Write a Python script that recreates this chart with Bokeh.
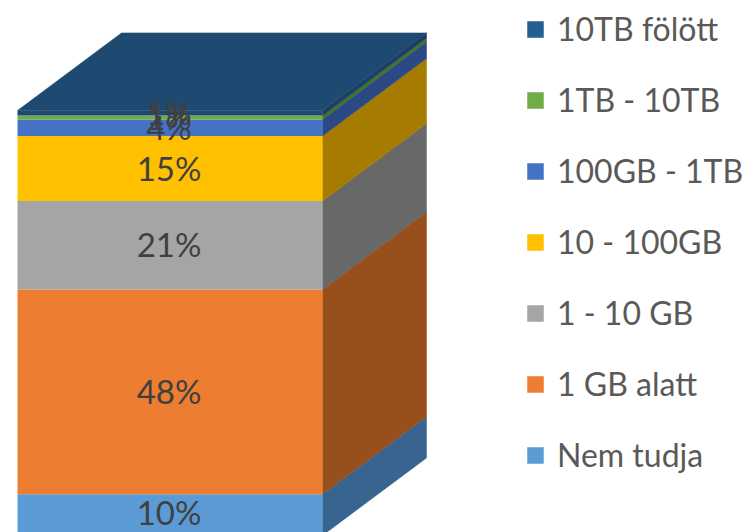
from bokeh.plotting import figure
from bokeh.models import Range1d, Legend, LegendItem, ColumnDataSource
from bokeh.core.properties import value
from bokeh.embed import file_html
from bokeh.resources import INLINE
import numpy as np

categories = ["Nem tudja", "1 GB alatt", "1 - 10 GB", "10 - 100GB", "100GB - 1TB", "1TB - 10TB", "10TB fölött"]
shares = [9.7, 48.2, 20.8, 15.3, 3.9, 0.9, 1.2]
labels = ["10%", "48%", "21%", "15%", "4%", "1%", "1%"]
front_colors = ["#5B9BD5", "#ED7D31", "#A5A5A5", "#FFC000", "#4472C4", "#70AD47", "#1E4A72"]
side_colors = ["#38658F", "#974F1C", "#686868", "#A67C00", "#2B4A85", "#44702C", "#1A3F66"]
legend_colors = ["#5B9BD5", "#ED7D31", "#A5A5A5", "#FFC000", "#4472C4", "#70AD47", "#255E91"]
top_color = "#1E4A72"

W, H = 748, 532
PX_X, PX_Y = 305.0, 4.25
DX, DY = 104 / PX_X, 77.6 / PX_Y

p = figure(width=W, height=H, output_backend="svg", toolbar_location=None,
           x_range=Range1d(-17 / PX_X, (W - 17) / PX_X),
           y_range=Range1d((535 - H) / PX_Y, 535 / PX_Y),
           min_border=0, outline_line_color=None)
p.axis.visible = False
p.grid.visible = False
p.background_fill_color = "white"

arr = np.array(shares)
tops = np.cumsum(arr)
bots = tops - arr

# side faces and top
for b, t, c in zip(bots, tops, side_colors):
    p.patch([1, 1 + DX, 1 + DX, 1], [b, b + DY, t + DY, t], fill_color=c, line_color=c, line_width=0.5)
p.patch([0, DX, 1 + DX, 1], [tops[-1], tops[-1] + DY, tops[-1] + DY, tops[-1]],
        fill_color=top_color, line_color=top_color, line_width=0.5)

# front faces
for b, t, c in zip(bots, tops, front_colors):
    p.vbar(x=[0.5], width=1, bottom=[b], top=[t], fill_color=c, line_color=None)

# data labels (the lowest one is nudged up so that it stays inside the picture)
nudge = [-3, -1, -1, -1, -1, -1, -1]
src = ColumnDataSource(dict(x=[0.5] * len(labels), y=(bots + tops) / 2, t=labels, dy=nudge))
p.text("x", "y", text="t", source=src, text_align="center", text_baseline="middle", x_offset=-1, y_offset="dy",
       text_font=value("Lato"), text_font_size="33px", text_color="#404040")

# legend
items = []
for name, c in zip(categories, legend_colors):
    r = p.vbar(x=[0.5], width=0, bottom=[0], top=[0], fill_color=c, line_color=c, line_width=0.5)
    items.append(LegendItem(label=name, renderers=[r]))
leg = Legend(items=items[::-1], location=(525, 58), orientation="vertical",
             padding=0, margin=0, spacing=32, glyph_width=20, glyph_height=20,
             label_standoff=12, label_height=30,
             label_text_font="Lato", label_text_font_size="32px", label_text_color="#595959",
             background_fill_alpha=0, border_line_alpha=0)
p.add_layout(leg, "center")

open("out.html", "w").write(file_html(p, INLINE))
